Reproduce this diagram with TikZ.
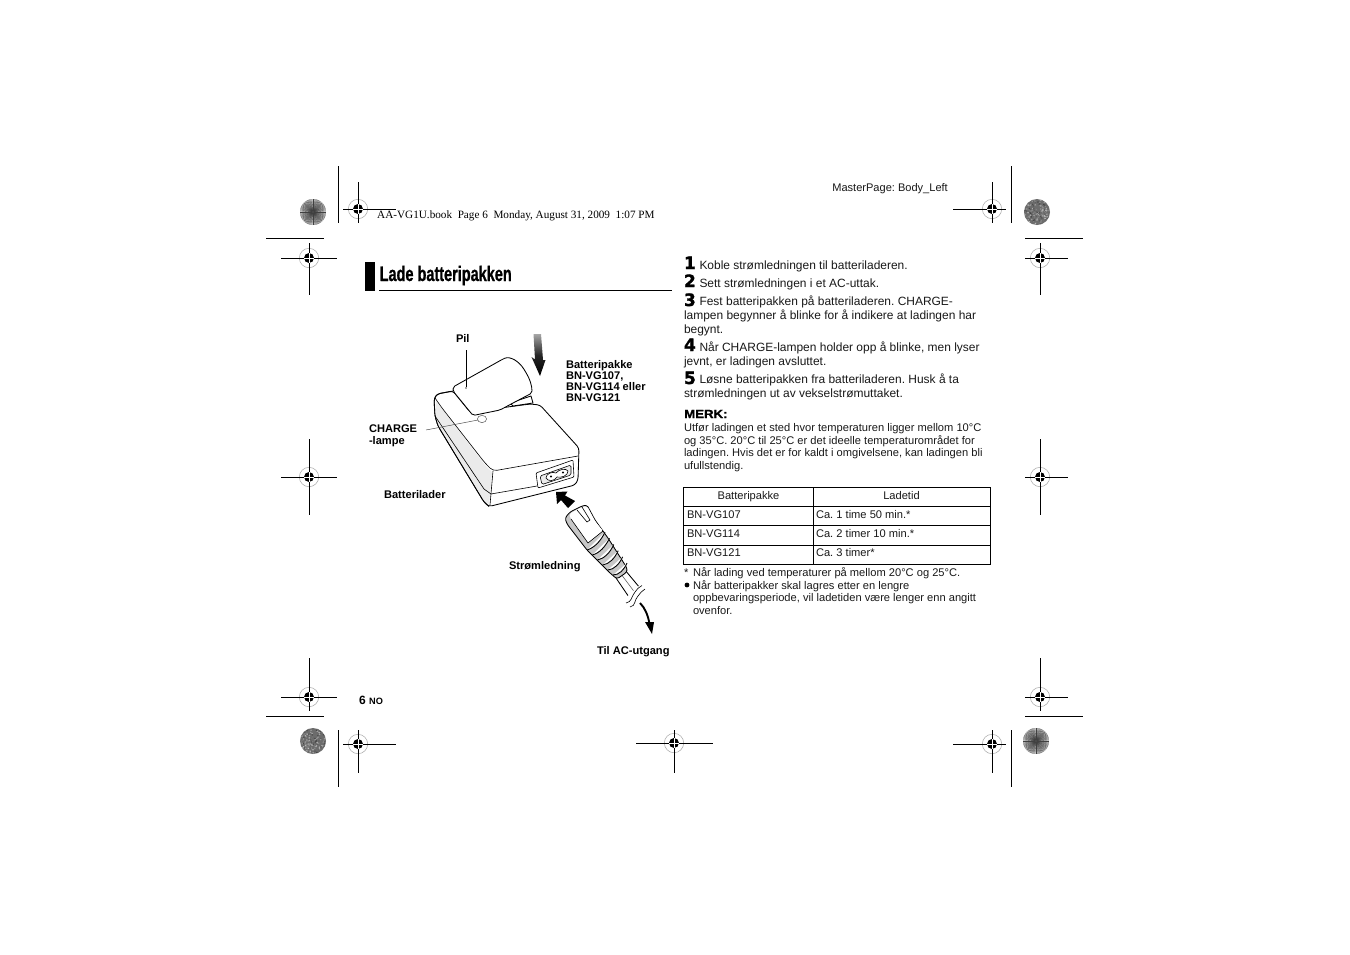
\documentclass[tikz,border=0pt]{standalone}
\usepackage{fontspec}
\setmainfont{Liberation Sans}
\newfontfamily\serifmark{Liberation Serif}
\newfontfamily\titlefont[FakeStretch=0.69,FakeBold=0.8]{Liberation Sans Bold}
\newfontfamily\numfont[FakeBold=1.6]{DejaVu Sans Bold}
\newfontfamily\merkfont[FakeStretch=1.12,FakeBold=1.2]{Liberation Sans Bold}
\frenchspacing
\newcommand{\regmark}[6]{%
  \draw[gray!70,line width=0.5pt] (#1,#2) circle (9.7);
  \fill[black] (#1,#2) circle (5);
  \draw[black,line width=0.9pt] (#3,#2) -- (#4,#2);
  \draw[black,line width=0.9pt] (#1,#5) -- (#1,#6);
  \draw[white,line width=0.5pt] (#1-5,#2) -- (#1+5,#2) (#1,#2-5) -- (#1,#2+5);
}
\newcommand{\sundisc}[2]{%
  \fill[gray!35] (#1,#2) circle (13);
  \foreach \a in {0,5,...,355}{\draw[black!75,line width=0.35pt] (#1,#2) -- ++(\a:13);}
  \fill[black!70] (#1,#2) circle (1.2);
}
\newcommand{\noisedisc}[2]{%
  \fill[gray!85!black] (#1,#2) circle (13);
  \foreach \k in {1,...,170}{%
    \pgfmathsetmacro{\ra}{360*rnd}\pgfmathsetmacro{\rr}{12.2*sqrt(rnd)}\pgfmathsetmacro{\rc}{int(25+50*rnd)}%
    \fill[black!\rc] (#1,#2) ++(\ra:\rr) circle (0.8);}
}
\tikzset{
  x=1pt,y=-1pt,
  body/.style={anchor=base west,inner sep=0pt,outer sep=0pt,font=\fontsize{11.97}{14}\selectfont,text=black!90},
  small/.style={anchor=base west,inner sep=0pt,outer sep=0pt,font=\fontsize{11.12}{12}\selectfont,text=black!90},
  lab/.style={anchor=base west,inner sep=0pt,outer sep=0pt,font=\fontsize{11.1}{12}\bfseries\selectfont},
  num/.style={anchor=base west,inner sep=0pt,outer sep=0pt,font=\fontsize{17}{17}\numfont},
  ink/.style={draw=black,line width=0.85pt,line join=round},
  seam/.style={draw=black,line width=0.6pt},
  cell/.style={draw=black,line width=0.85pt},
}
\begin{document}
\begin{tikzpicture}
\useasboundingbox (0,0) rectangle (1350,954);
\fill[white] (0,0) rectangle (1350,954);
\pgfmathsetseed{42}

% corner and side marks
\sundisc{313}{212}
\noisedisc{1037}{212}
\noisedisc{313}{741}
\sundisc{1036}{741}
\draw[line width=0.9pt] (338,166) -- (338,223) (1011,166) -- (1011,223) (338,730) -- (338,787) (1011,730) -- (1011,787);
\draw[line width=0.9pt] (266,238) -- (324,238) (1025,238) -- (1083,238) (266,716) -- (324,716) (1025,716) -- (1083,716);
\regmark{358}{209}{343}{396}{182}{223}
\regmark{992}{209}{953}{1006}{182}{223}
\regmark{309}{258}{281}{337}{243}{295}
\regmark{1040}{258}{1025}{1068}{243}{295}
\regmark{309}{477}{281}{337}{439}{515}
\regmark{1040}{477}{1025}{1068}{439}{515}
\regmark{309}{697}{281}{337}{658}{711}
\regmark{1040}{697}{1025}{1068}{658}{711}
\regmark{358}{744}{343}{396}{730}{773}
\regmark{674}{743}{636}{713}{730}{773}
\regmark{992}{744}{953}{1006}{730}{773}

\node[anchor=base east,inner sep=0pt,font=\fontsize{11.05}{12}\selectfont,text=black!90] (master) at (948,191) {MasterPage: Body\_Left};
\node[anchor=base west,inner sep=0pt,font=\fontsize{11.2}{12}\serifmark] (book) at (377,218) {AA-VG1U.book\ \ Page 6\ \ Monday, August 31, 2009\ \ 1:07 PM};

% heading
\fill[black] (365,262) rectangle (375,291);
\draw[line width=0.8pt] (379,290.5) -- (672,290.5);
\node[anchor=base west,inner sep=0pt,font=\fontsize{21}{24}\titlefont] (title) at (379.5,281) {Lade batteripakken};

% charger
\path[ink,fill=white,rounded corners=3pt] (453,391) -- (437,394) -- (434,399) -- (435,416) -- (438,426) -- (484,502) -- (489,506.5) -- (575,485) -- (578,480) -- (579,448) -- (540,405) -- (530,404) -- (470,412) -- cycle;
\path[fill=black!8] (436,401) -- (485,465) -- (492,472) -- (489,505) -- (484,501) -- (438,425) -- (435,414) -- cycle;
\path[ink,rounded corners=3pt] (453,391) -- (437,394) -- (434,399) -- (435,416) -- (438,426) -- (484,502) -- (489,506.5);
\path[seam,rounded corners=4pt] (435,398) -- (442,408) -- (485,463) -- (493,471) -- (578,456);
\path[seam] (493,471) -- (490,505);
\path[seam] (435,416) -- (484,489) -- (491,494);
\path[seam] (491,494) -- (537,486);
% lamp
\draw[black!70,line width=0.45pt,fill=white] (482,419) ellipse (4.6 and 3.6);
% socket
\path[seam,fill=white,rounded corners=1pt] (536,473) -- (573,460) -- (574,477) -- (538,488) -- cycle;
\path[seam,fill=white!92!black,rounded corners=1.5pt] (540,476) -- (571,465) -- (571,475) -- (542,484.5) -- cycle;
\path[seam,fill=white] (546,478) .. controls (546,474) and (552,471) .. (556,473) .. controls (559,469) and (566,468) .. (568,471) .. controls (568,476) and (561,478) .. (557,477) .. controls (555,481) and (548,482) .. (546,478) -- cycle;
\fill[black] (551,476.5) circle (1.1) (563,472.5) circle (1.1);
% battery
\path[ink,fill=white] (513,406) -- (533,403) -- (531,396) -- (510,403) -- cycle;
\path[ink,fill=white,rounded corners=2pt] (453,387) -- (503,359) .. controls (510,356) and (519,361) .. (525,371) .. controls (530,379) and (532,386) .. (532,393) -- (513,403) -- (500,410) -- (473,415.5) -- (453,391) -- cycle;
\fill[black!70] (466,388) circle (0.8);
% pil leader
\coordinate (pilend) at (466,387);
\coordinate (pilstart) at (466,350);
\draw[black,line width=0.55pt] (pilstart) -- (pilend);
% charge leader
\coordinate (chargea) at (426,430);
\coordinate (chargeb) at (478,420);
\draw[black!75,line width=0.45pt] (chargea) -- (chargeb);

% battery arrow
\shade[top color=black!35,bottom color=black,middle color=black!85] (533.5,334) -- (541,334) -- (543,360) -- (545.5,360) -- (540,376) -- (531.5,357) -- (535,359.5) -- cycle;

% plug arrow
\fill[black] (556,492) -- (567.5,491.5) -- (565,495.5) -- (575,501) -- (568,508) -- (561,500) -- (557,504) -- cycle;

% cable and plug
\path[ink,fill=white] (625,570) -- (640,588) -- (631,600) -- (616,578) -- cycle;
\path[seam,black!60] (621,574) -- (636,594);
\path[ink,fill=black!22,rounded corners=2.5pt] (565,518) -- (570,512) -- (582,506) -- (587,505) -- (595,520) -- (608,538) -- (627,568) -- (627,572) -- (617,579) -- (610,573) -- (587,550) -- (567,524) -- cycle;
\path[fill=white,rounded corners=2pt] (569,514) -- (582,507) -- (587,506) -- (595,521) -- (603,531) -- (588,543) -- (571,519) -- cycle;
\path[seam] (577,510) -- (587,522) -- (590,520);
\path[seam] (582,507) -- (590,520);
\path[seam] (571,519) -- (588,543) -- (603,531);
\foreach \i in {0,...,5}{%
  \draw[black,line width=0.9pt,fill=white] ({587+5.2*\i},{550+5*\i}) .. controls ({594+5*\i},{548+5.4*\i}) and ({601+4.6*\i},{541+5.8*\i}) .. ({605+4.4*\i},{532+6.2*\i});
}
% break
\fill[white] (625,608) -- (647,590) -- (641,584) -- (621,602) -- cycle;
\draw[black,line width=0.6pt] (630,607) .. controls (636,606) and (634,600) .. (638,596) .. controls (640,593) and (642,591) .. (645,589);
\draw[black,line width=0.6pt] (626,603) .. controls (632,602) and (631,597) .. (635,592) .. controls (637,589) and (639,587) .. (642,585.5);
% exit arrow
\path[draw=black,line width=1.9pt] (640,603) .. controls (645,608) and (648,615) .. (649.5,624);
\fill[black] (645,622) -- (654,622) -- (652,634) -- cycle;

% labels
\node[lab] (pil) at (456,342) {Pil};
\node[lab] (bat1) at (566,368) {Batteripakke};
\node[lab] (bat2) at (566,379) {BN-VG107,};
\node[lab] (bat3) at (566,390) {BN-VG114 eller};
\node[lab] (bat4) at (566,401) {BN-VG121};
\node[lab] (charge1) at (369,432) {CHARGE};
\node[lab] (charge2) at (369,444) {-lampe};
\node[lab] (lader) at (384,498) {Batterilader};
\node[lab] (strom) at (509,569) {Strømledning};
\node[lab] (til) at (597,654) {Til AC-utgang};

% steps
\node[num] (n1) at (684,269) {1};
\node[body] (s1) at (699.5,269) {Koble strømledningen til batteriladeren.};
\node[num] (n2) at (684,287) {2};
\node[body] (s2) at (699.5,287) {Sett strømledningen i et AC-uttak.};
\node[num] (n3) at (684,306) {3};
\node[body] (s3a) at (699.5,305) {Fest batteripakken på batteriladeren. CHARGE-};
\node[body] (s3b) at (684,319) {lampen begynner å blinke for å indikere at ladingen har};
\node[body] (s3c) at (684,333) {begynt.};
\node[num] (n4) at (684,351) {4};
\node[body] (s4a) at (699.5,351) {Når CHARGE-lampen holder opp å blinke, men lyser};
\node[body] (s4b) at (684,365) {jevnt, er ladingen avsluttet.};
\node[num] (n5) at (684,384) {5};
\node[body] (s5a) at (699.5,383) {Løsne batteripakken fra batteriladeren. Husk å ta};
\node[body] (s5b) at (684,397) {strømledningen ut av vekselstrømuttaket.};
\node[anchor=base west,inner sep=0pt,font=\fontsize{11.8}{14}\merkfont] (merk) at (684,418) {MERK:};
\node[small] (m1) at (684,431) {Utfør ladingen et sted hvor temperaturen ligger mellom 10°C};
\node[small] (m2) at (684,444) {og 35°C. 20°C til 25°C er det ideelle temperaturområdet for};
\node[small] (m3) at (684,456) {ladingen. Hvis det er for kaldt i omgivelsene, kan ladingen bli};
\node[small] (m4) at (684,469) {ufullstendig.};

% table
\draw[cell] (683.5,487.5) rectangle (990.5,564.5);
\draw[cell] (683.5,506.5) -- (990.5,506.5) (683.5,525.5) -- (990.5,525.5) (683.5,545) -- (990.5,545) (813.5,487.5) -- (813.5,564.5);
\node[small,anchor=base] (h1) at (748.5,499) {Batteripakke};
\node[small,anchor=base] (h2) at (901.5,499) {Ladetid};
\node[small] (a1) at (687,518) {BN-VG107};
\node[small] (b1) at (816,518) {Ca. 1 time 50 min.*};
\node[small] (a2) at (687,537) {BN-VG114};
\node[small] (b2) at (816,537) {Ca. 2 timer 10 min.*};
\node[small] (a3) at (687,556) {BN-VG121};
\node[small] (b3) at (816,556) {Ca. 3 timer*};

% notes
\node[small] (star) at (684,576) {*};
\node[small] (f1) at (693,576) {Når lading ved temperaturer på mellom 20°C og 25°C.};
\fill[black] (687,585) circle (2.4);
\node[small] (f2) at (693,589) {Når batteripakker skal lagres etter en lengre};
\node[small] (f3) at (693,601) {oppbevaringsperiode, vil ladetiden være lenger enn angitt};
\node[small] (f4) at (693,614) {ovenfor.};

% page number
\node[anchor=base west,inner sep=0pt,font=\fontsize{12}{13}\bfseries\selectfont] (pg) at (359,704) {6};
\node[anchor=base west,inner sep=0pt,font=\fontsize{9.2}{13}\bfseries\selectfont] (no) at (369,704) {NO};
\end{tikzpicture}
\end{document}
